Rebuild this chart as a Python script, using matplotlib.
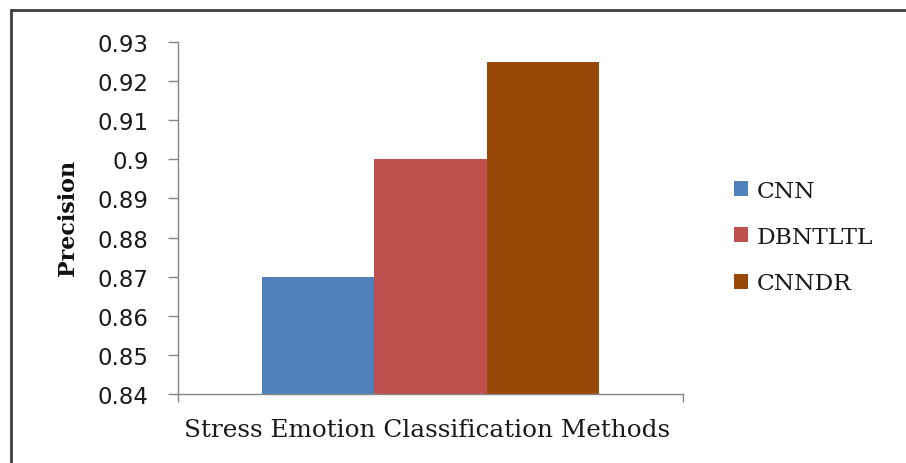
import matplotlib
matplotlib.use("Agg")
import matplotlib.pyplot as plt
from matplotlib.patches import Rectangle, Patch
from matplotlib.ticker import FuncFormatter, FixedLocator

# Data
group_label = "Stress Emotion Classification Methods"
methods = ["CNN", "DBNTLTL", "CNNDR"]
precision = [0.87, 0.90, 0.925]
colors = ["#4F81BD", "#C0504D", "#984807"]
y_ticks = [0.84, 0.85, 0.86, 0.87, 0.88, 0.89, 0.90, 0.91, 0.92, 0.93]

W, H = 906, 464
fig = plt.figure(figsize=(W / 100, H / 100), dpi=100)
fig.patch.set_facecolor("white")

# chart-area border (runs off the right and bottom edges)
fig.patches.append(Rectangle((11 / W, -0.05), 1.2, 1 - 11 / H + 0.05,
                             transform=fig.transFigure, fill=False,
                             edgecolor="#3c3c3c", linewidth=2.0))

left, right, top, bottom = 178, 683, 43, 395
ax = fig.add_axes([left / W, (H - bottom) / H, (right - left) / W, (bottom - top) / H])

bar_w = 0.2224
offsets = [-bar_w, 0.0, bar_w]
handles = []
for off, val, col, name in zip(offsets, precision, colors, methods):
    ax.bar(off, val, width=bar_w, color=col, edgecolor="none", label=name)
    handles.append(Patch(facecolor=col, edgecolor="none", label=name))

ax.set_xlim(-0.5, 0.5)
ax.set_ylim(y_ticks[0], y_ticks[-1])
ax.yaxis.set_major_locator(FixedLocator(y_ticks))
ax.yaxis.set_major_formatter(FuncFormatter(lambda v, p: f"{v:g}"))
ax.set_xticks([-0.5, 0.5])
ax.set_xticklabels([])

for s in ["top", "right"]:
    ax.spines[s].set_visible(False)
for s in ["left", "bottom"]:
    ax.spines[s].set_color("#868686")
    ax.spines[s].set_linewidth(1.0)

ax.tick_params(axis="y", direction="out", length=7, width=1.0, color="#868686",
               pad=14, labelsize=16.5, labelcolor="#1a1a1a")
ax.tick_params(axis="x", direction="out", length=6, width=1.0, color="#868686")
for lab in ax.get_yticklabels():
    lab.set_fontfamily("DejaVu Sans")

fig.text(68 / W, 1 - 218 / H, "Precision", rotation=90, ha="center", va="center",
         fontsize=16, fontweight="bold", family="DejaVu Serif", color="#111111")
fig.text(427.5 / W, 1 - 431 / H, group_label, ha="center", va="center",
         fontsize=17.8, family="DejaVu Serif", color="#1a1a1a")

fig.legend(handles=handles, loc="center left",
           bbox_to_anchor=(722 / W, 1 - 238 / H), frameon=False,
           prop={"family": "DejaVu Serif", "size": 16.8},
           handlelength=0.6, handleheight=0.6, handletextpad=0.4,
           labelspacing=1.05, borderpad=0, labelcolor="#1a1a1a")

fig.savefig("out.png", dpi=100, facecolor="white")
